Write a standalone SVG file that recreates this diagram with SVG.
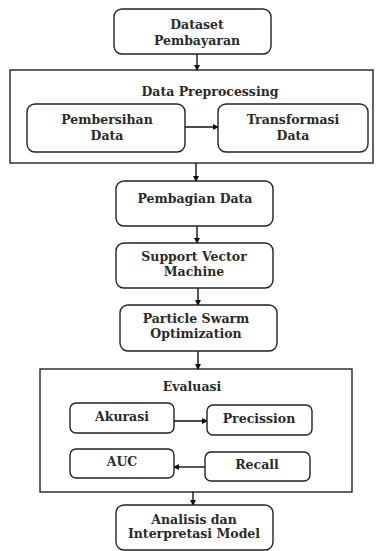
<svg xmlns="http://www.w3.org/2000/svg" width="376" height="551" viewBox="0 0 376 551">
<style>
.box{fill:#fff;stroke:#222;stroke-width:1.4}
.frame{fill:#fff;stroke:#222;stroke-width:1.4}
.t{font-family:"DejaVu Serif","Liberation Serif",serif;font-size:12.5px;font-weight:bold;fill:#2a2a2a;text-anchor:middle}
.c{stroke:#111;stroke-width:1.4;fill:none}
</style>
<defs>
<marker id="ah" markerWidth="6" markerHeight="6" refX="5" refY="3" orient="auto" markerUnits="userSpaceOnUse">
<path d="M0,0 L6,3 L0,6 Z" fill="#111"/>
</marker>
</defs>
<rect width="376" height="551" fill="#fff"/>
<g id="preprocessing-frame">
<rect class="frame" x="10" y="70" width="363" height="93"/>
<text class="t" x="210" y="96">Data Preprocessing</text>
</g>
<g id="evaluasi-frame">
<rect class="frame" x="40" y="369" width="312" height="123"/>
<text class="t" x="192" y="391">Evaluasi</text>
</g>
<g id="connectors">
<line class="c" x1="197" y1="54" x2="197" y2="70" marker-end="url(#ah)"/>
<line class="c" x1="185" y1="127" x2="218" y2="127" marker-end="url(#ah)"/>
<line class="c" x1="196" y1="163" x2="196" y2="181" marker-end="url(#ah)"/>
<line class="c" x1="197" y1="226" x2="197" y2="243" marker-end="url(#ah)"/>
<line class="c" x1="198" y1="288" x2="198" y2="305" marker-end="url(#ah)"/>
<line class="c" x1="198" y1="351" x2="198" y2="369" marker-end="url(#ah)"/>
<line class="c" x1="174" y1="421" x2="207" y2="421" marker-end="url(#ah)"/>
<line class="c" x1="205" y1="467" x2="174" y2="467" marker-end="url(#ah)"/>
<line class="c" x1="193" y1="492" x2="193" y2="505" marker-end="url(#ah)"/>
</g>
<g id="dataset">
<rect class="box" x="114" y="9" width="157" height="45" rx="8"/>
<text class="t" x="197" y="29">Dataset</text>
<text class="t" x="197" y="45">Pembayaran</text>
</g>
<g id="pembersihan">
<rect class="box" x="27" y="104" width="158" height="48" rx="8"/>
<text class="t" x="107" y="124">Pembersihan</text>
<text class="t" x="107" y="140">Data</text>
</g>
<g id="transformasi">
<rect class="box" x="218" y="104" width="150" height="48" rx="8"/>
<text class="t" x="293" y="124">Transformasi</text>
<text class="t" x="293" y="140">Data</text>
</g>
<g id="pembagian">
<rect class="box" x="116" y="181" width="157" height="45" rx="8"/>
<text class="t" x="195" y="203">Pembagian Data</text>
</g>
<g id="svm">
<rect class="box" x="116" y="243" width="157" height="45" rx="8"/>
<text class="t" x="194" y="261">Support Vector</text>
<text class="t" x="194" y="276">Machine</text>
</g>
<g id="pso">
<rect class="box" x="120" y="305" width="157" height="46" rx="8"/>
<text class="t" x="196" y="323">Particle Swarm</text>
<text class="t" x="196" y="338">Optimization</text>
</g>
<g id="akurasi">
<rect class="box" x="70" y="403" width="104" height="30" rx="6"/>
<text class="t" x="122" y="421">Akurasi</text>
</g>
<g id="precission">
<rect class="box" x="207" y="405" width="105" height="30" rx="6"/>
<text class="t" x="259" y="423">Precission</text>
</g>
<g id="auc">
<rect class="box" x="70" y="449" width="104" height="29" rx="6"/>
<text class="t" x="122" y="466">AUC</text>
</g>
<g id="recall">
<rect class="box" x="205" y="452" width="105" height="29" rx="6"/>
<text class="t" x="257" y="469">Recall</text>
</g>
<g id="analisis">
<rect class="box" x="116" y="505" width="157" height="45" rx="8"/>
<text class="t" x="194" y="524">Analisis dan</text>
<text class="t" x="194" y="538">Interpretasi Model</text>
</g>
</svg>
